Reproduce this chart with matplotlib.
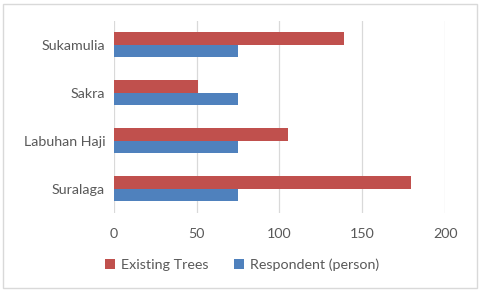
import matplotlib.pyplot as plt
from matplotlib.patches import Rectangle
import numpy as np

villages = ['Suralaga', 'Labuhan Haji', 'Sakra', 'Sukamulia']
existing_trees = [179, 105, 51, 139]
respondents = [75, 75, 75, 75]
x_ticks = [0, 50, 100, 150, 200]

red = '#C0504D'
blue = '#4F81BD'
text_col = '#595959'

plt.rcParams['font.family'] = ['Lato', 'DejaVu Sans']

fig = plt.figure(figsize=(4.8, 2.92), dpi=100)
ax = fig.add_axes([0.2365, 0.271, 0.6915, 0.658])

y = np.arange(len(villages))
h = 0.26
ax.barh(y + h / 2, existing_trees, height=h, color=red, label='Existing Trees', zorder=3)
ax.barh(y - h / 2, respondents, height=h, color=blue, label='Respondent (person)', zorder=3)

ax.set_xlim(0, 200)
ax.set_ylim(-0.5, len(villages) - 0.5)
ax.set_xticks(x_ticks)
ax.set_yticks(y)
ax.set_yticklabels(villages)
ax.grid(axis='x', color='#d9d9d9', linewidth=0.9, zorder=0)
for s in ax.spines.values():
    s.set_visible(False)
ax.tick_params(length=0, colors=text_col, labelsize=10.3)
ax.tick_params(axis='x', pad=11)
ax.tick_params(axis='y', pad=6)

fig.legend(loc='center', bbox_to_anchor=(0.505, 0.095), ncol=2, frameon=False,
           fontsize=10.3, labelcolor=text_col, handlelength=0.7, handleheight=0.7,
           handletextpad=0.4, columnspacing=1.8)

fig.patches.append(Rectangle((0.006, 0.012), 0.988, 0.976, transform=fig.transFigure,
                             fill=False, edgecolor='#d9d9d9', linewidth=1))

fig.savefig('out.png', dpi=100)
